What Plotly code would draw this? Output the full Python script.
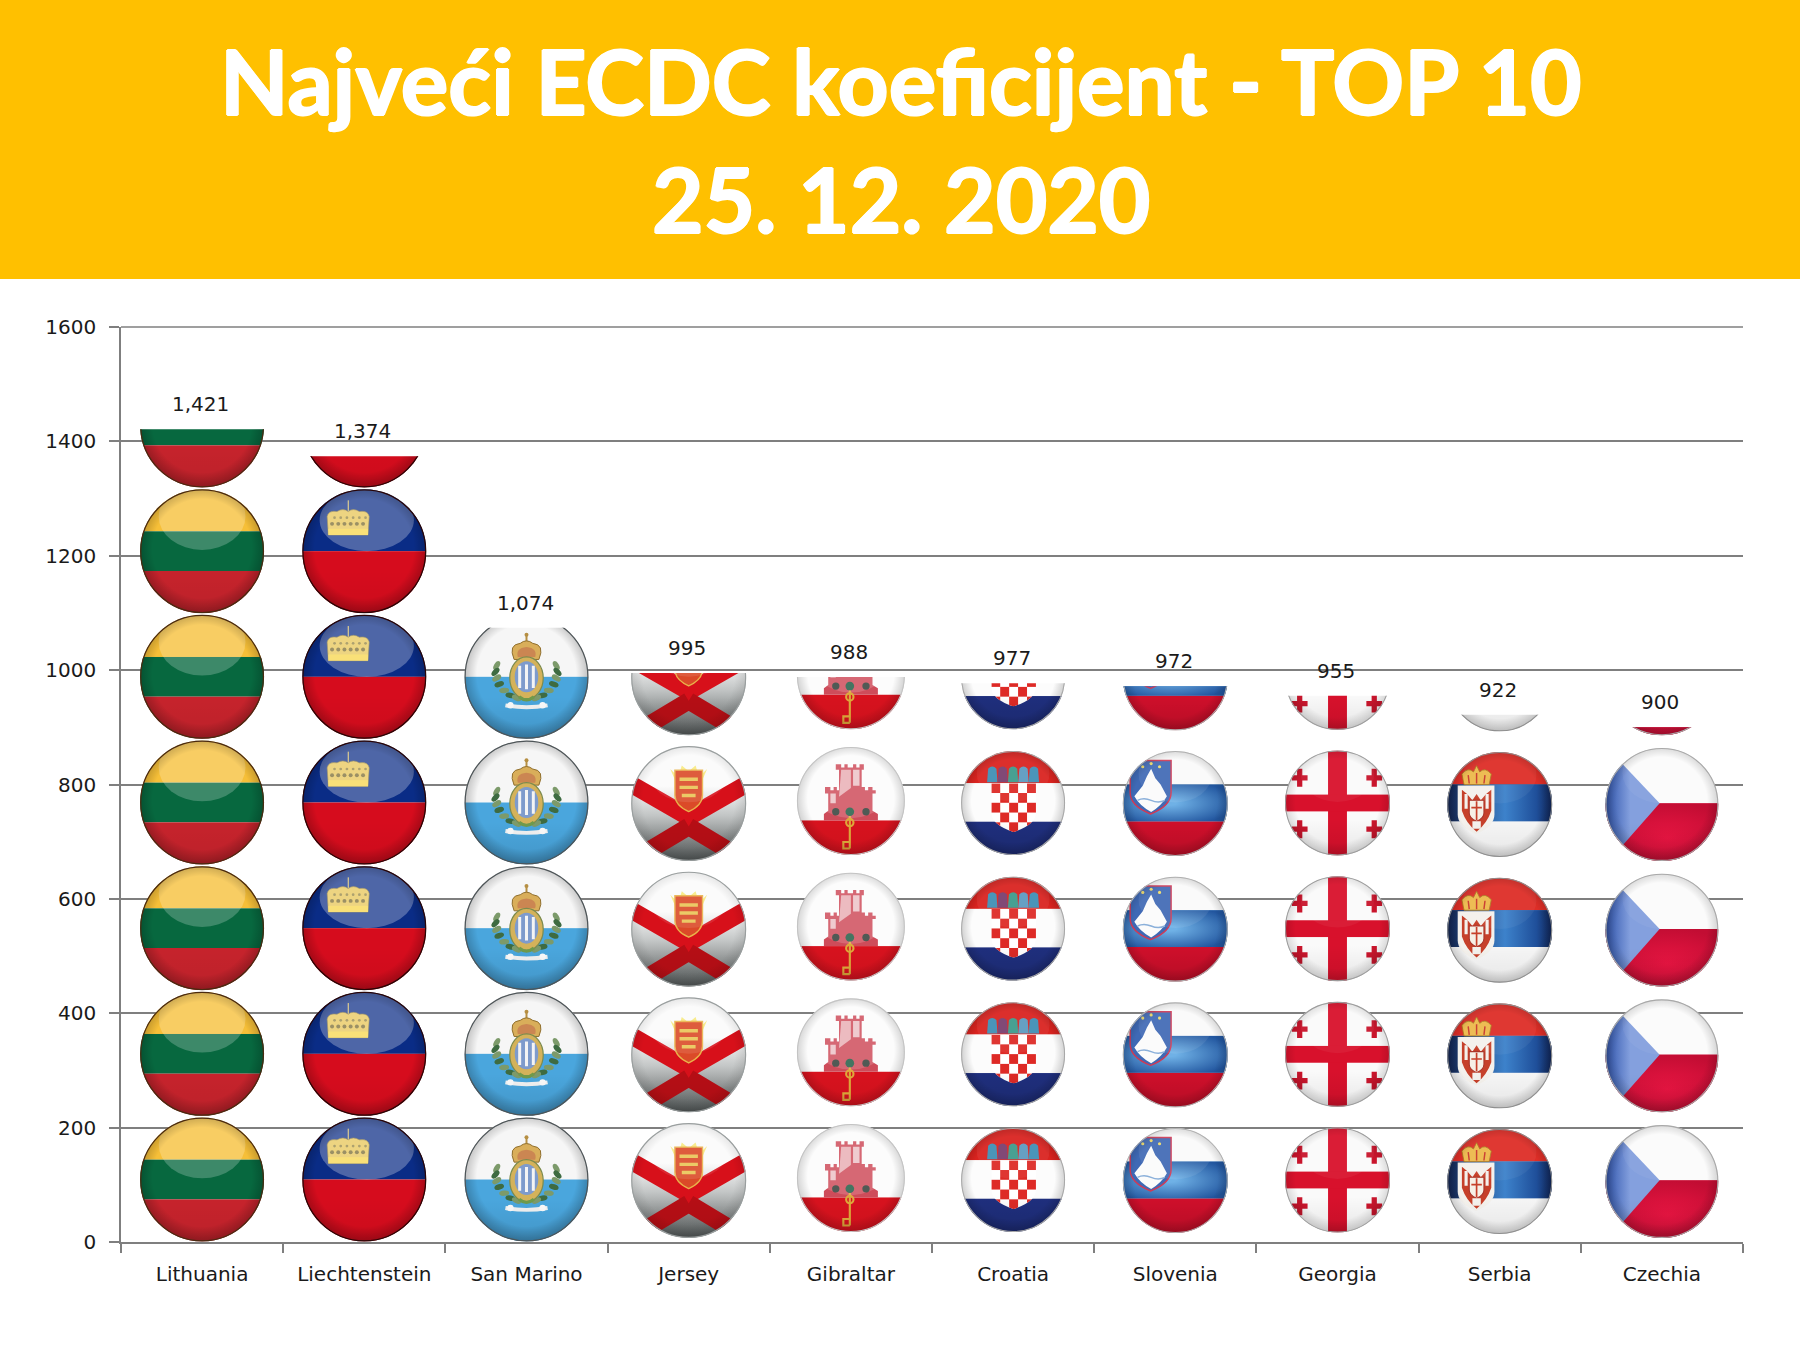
import base64
import plotly.graph_objects as go

# ECDC coefficient per country
countries = ["Lithuania", "Liechtenstein", "San Marino", "Jersey", "Gibraltar",
             "Croatia", "Slovenia", "Georgia", "Serbia", "Czechia"]
coefficients = [1421, 1374, 1074, 995, 988, 977, 972, 955, 922, 900]
y_ticks = [0, 200, 400, 600, 800, 1000, 1200, 1400, 1600]
title_lines = ["Najveći ECDC koeficijent - TOP 10", "25. 12. 2020"]

UNITS_PER_ICON = 219.75   # one stacked badge stands for this many units
FIG_W, FIG_H = 1800, 1350
M_L, M_R, M_T, M_B = 121, 57, 327, 108
PLOT_W, PLOT_H = FIG_W - M_L - M_R, FIG_H - M_T - M_B
SLOT = UNITS_PER_ICON / 1600 * PLOT_H     # badge cell size in pixels
SLOT_CAT = SLOT / (PLOT_W / len(countries))
AXIS_GREY = "#7f7f7f"
TEXT_FONT = dict(family="DejaVu Sans", size=20, color="#1a1a1a")


def shield_path(x0, x1, y0, y1):
    m = (x0 + x1) / 2
    h = y1 - y0
    return (f"M{x0} {y0}H{x1}V{y0 + h * .6}Q{x1} {y0 + h * .85} {m} {y1}"
            f"Q{x0} {y0 + h * .85} {x0} {y0 + h * .6}Z")


def stripes(*bands):
    out, top = "", 0
    for colour, bottom in bands:
        out += f'<rect x="0" y="{top}" width="100" height="{bottom - top}" fill="{colour}"/>'
        top = bottom
    return out


def lithuania():
    return stripes(("#F6BF38", 34), ("#07683F", 66), ("#C6232C", 100))


def liechtenstein():
    crown = (
        '<rect x="36.6" y="9" width="1" height="9" fill="#C9B569"/>'
        '<path d="M21 37L20 22Q21 17 28 18Q33 15 37 18Q41 15 46 18Q53 17 54 22L53 37Z" '
        'fill="#E6C451" stroke="#7f6f33" stroke-width=".5"/>'
        '<rect x="21" y="32" width="32" height="5" fill="#F7D545"/>'
    )
    for x in range(24, 53, 5):
        crown += f'<circle cx="{x}" cy="28" r="1.6" fill="#75662a"/>'
        crown += f'<circle cx="{x + 2}" cy="23" r="1.1" fill="#8e7d38"/>'
    return stripes(("#0A2C86", 50), ("#D60C1D", 100)) + crown


def san_marino():
    art = stripes(("#F6F6F6", 50), ("#4AA6DD", 100))
    # laurel and oak branches either side of the shield
    leaves = ""
    for sign in (-1, 1):
        for k, (dx, y) in enumerate(((24, 41), (25, 46), (24, 51), (22, 56), (18, 61), (13, 65), (8, 67))):
            colour = "#3E6B41" if k % 2 else "#7C9A6A"
            leaves += (f'<ellipse cx="{50 + sign * dx}" cy="{y}" rx="4" ry="2.2" fill="{colour}" '
                       f'transform="rotate({sign * (60 - k * 14)} {50 + sign * dx} {y})"/>')
    art += leaves
    art += (
        '<circle cx="50" cy="16" r="1.6" fill="#B68F43"/><path d="M50 16V22" stroke="#B68F43" stroke-width="1.6"/>'
        '<path d="M40 36Q35 24 45 23Q50 19 55 23Q65 24 60 36Z" fill="#D9AE5A" stroke="#8F6E2E" stroke-width=".8"/>'
        '<path d="M43 34Q41 27 50 26Q59 27 57 34Z" fill="#C26A4C" opacity=".6"/>'
        '<ellipse cx="50" cy="51" rx="13.5" ry="17" fill="#D4B25A" stroke="#7C8B4E" stroke-width="1"/>'
        '<ellipse cx="50" cy="50" rx="9.5" ry="12.5" fill="#7E9BCC"/>'
        '<path d="M44.5 41V59M50 40V60M55.5 41V59" stroke="#F4F4F4" stroke-width="2.4"/>'
        '<path d="M44 66Q50 71 56 66" stroke="#6F9A4B" stroke-width="2.6" fill="none"/>'
        '<path d="M33 73Q50 76 67 73" stroke="#F2F2F2" stroke-width="3.2" fill="none"/>'
        '<circle cx="37" cy="73" r="2.6" fill="#FBFBFB"/><circle cx="63" cy="73" r="2.6" fill="#FBFBFB"/>'
    )
    return art


def jersey():
    art = (
        '<defs><linearGradient id="jg" x1="0" y1="0" x2="0" y2="1">'
        '<stop offset=".35" stop-color="#FBFBFB"/><stop offset=".6" stop-color="#C3C6C6"/>'
        '<stop offset="1" stop-color="#4F5454"/></linearGradient></defs>'
        '<rect width="100" height="100" fill="url(#jg)"/>'
        '<path d="M-4 31L50 62L104 31" fill="none" stroke="#D7101A" stroke-width="15"/>'
        '<path d="M50 70L100 100M50 70L0 100" stroke="#B50E15" stroke-width="15"/>'
        '<path d="M34 20L41 27L44 17L50 22L56 17L59 27L66 20L60 34H40Z" fill="#F7E66A" opacity=".85"/>'
        f'<path d="{shield_path(38, 62, 21, 57)}" fill="#DB4A28" stroke="#E9B14A" stroke-width="1.2"/>'
        '<path d="M42 29H58M42 36H58M44 43H56" stroke="#E9C455" stroke-width="3"/>'
    )
    return art


def gibraltar():
    art = stripes(("#FCFCFC", 68), ("#D8121E", 100))
    art += (
        '<path d="M25 68V62L29 59V43H26V37H31V40H34V37H37V40H39V21H36V16H41V19H44V16H47V19H52V16H55V19H58V16H62'
        'V21H60V37H63V40H66V37H70V40H73V43H70V59L75 62V68Z" fill="#CE4C5A"/>'
        '<path d="M41 21H50V38L39 46Z" fill="#F2CFD3" opacity=".75"/>'
        '<path d="M52 21H58V36H52ZM31 43H36V52H31Z" fill="#F4DEE1" opacity=".8"/>'
        '<circle cx="36" cy="60" r="3.4" fill="#2F3B35"/><circle cx="49" cy="60" r="4" fill="#1F5B43"/>'
        '<circle cx="64" cy="60" r="3.4" fill="#2F3B35"/>'
        '<path d="M49 64V94M49 94H43V88H49" stroke="#DFA93A" stroke-width="2" fill="none"/>'
        '<circle cx="49" cy="70" r="3.4" fill="none" stroke="#DFA93A" stroke-width="2"/>'
    )
    return art


def croatia():
    art = stripes(("#D9231F", 31), ("#FCFCFC", 68), ("#1F2F7E", 100))
    path = shield_path(29, 72, 31, 78)
    art += f'<clipPath id="cs"><path d="{path}"/></clipPath><g clip-path="url(#cs)">'
    art += '<rect x="29" y="31" width="43" height="47" fill="#FFFFFF"/>'
    for row in range(5):
        for col in range(5):
            if (row + col) % 2 == 0:
                art += (f'<rect x="{29 + col * 8.6:.1f}" y="{31 + row * 9.4:.1f}" '
                        'width="8.6" height="9.4" fill="#DE2A26"/>')
    art += "</g>"
    colours = ["#3F8FB5", "#7A3E6E", "#3D9B8C", "#5D9BC0", "#3F8FB5"]
    for i, colour in enumerate(colours):
        art += (f'<path d="M{25 + i * 10} 30L{26 + i * 10} 17Q{30 + i * 10} 13 {34 + i * 10} 17L{35 + i * 10} 30Z" '
                f'fill="{colour}"/>')
    return art


def slovenia():
    art = (
        '<defs><radialGradient id="sb" cx=".45" cy=".5" r=".62">'
        '<stop offset=".1" stop-color="#6FB1E6"/><stop offset="1" stop-color="#22569F"/></radialGradient></defs>'
    )
    art += stripes(("#FAFAFA", 32), ("#3C7FC4", 67), ("#D00F2B", 100))
    art += '<rect x="0" y="32" width="100" height="35" fill="url(#sb)"/>'
    art += (
        f'<path d="{shield_path(7, 46, 9, 60)}" fill="#3F69B5" stroke="#CF3A56" stroke-width="1.4"/>'
        '<path d="M11 43L19 33L23 24L27 17L31 26L36 32L42 43Q37 52 27 58Q16 52 11 43Z" fill="#FBFBFB"/>'
        '<path d="M14 47Q20 44 27 47T40 47" stroke="#8BB0DA" stroke-width="1.4" fill="none"/>'
        '<circle cx="19" cy="15" r="1.5" fill="#F0DC6A"/><circle cx="27" cy="12" r="1.5" fill="#F0DC6A"/>'
        '<circle cx="35" cy="15" r="1.5" fill="#F0DC6A"/>'
    )
    return art


def georgia():
    art = '<rect width="100" height="100" fill="#FAFAFA"/>'
    art += ('<rect x="41" y="0" width="18" height="100" fill="#D8112C"/>'
            '<rect x="0" y="42" width="100" height="16" fill="#D8112C"/>')
    for cx in (14, 85):
        for cy in (26, 75):
            art += f'<path d="M{cx} {cy - 8.5}V{cy + 8.5}M{cx - 7.5} {cy}H{cx + 7.5}" stroke="#C9152C" stroke-width="5"/>'
    return art


def serbia():
    art = (
        '<defs><linearGradient id="rb" x1="0" y1="0" x2="1" y2="0">'
        '<stop offset="0" stop-color="#12234F"/><stop offset=".55" stop-color="#3D82CB"/>'
        '<stop offset=".85" stop-color="#1F4F9A"/><stop offset="1" stop-color="#102455"/></linearGradient></defs>'
    )
    art += stripes(("#DE2E27", 31), ("#27549E", 66), ("#F5F5F5", 100))
    art += '<rect x="0" y="31" width="100" height="35" fill="url(#rb)"/>'
    art += (
        '<path d="M16 31L14 21Q20 14 25 19L28 13L31 19Q36 14 42 21L40 31Z" fill="#EDB94B" stroke="#A87A20" stroke-width=".8"/>'
        '<path d="M21 30L20 22M28 30V20M35 30L36 22" stroke="#C9372B" stroke-width="1.4"/>'
        f'<path d="{shield_path(10, 45, 32, 78)}" fill="#F4F1EC"/>'
        '<path d="M14 36Q20 40 24 46L28 40L32 46Q36 40 42 36V56Q38 68 28 76Q18 68 14 56Z" fill="#C6402A"/>'
        '<path d="M18 40V54M38 40V54" stroke="#F4F1EC" stroke-width="3"/>'
        f'<path d="{shield_path(21, 35, 46, 66)}" fill="#F6F0E6" stroke="#A9352A" stroke-width="1"/>'
        '<path d="M28 47V65M23 53H33" stroke="#C6402A" stroke-width="1.6"/>'
        '<path d="M24 66V73H32V66Z" fill="#F4F1EC"/>'
    )
    return art


def czechia():
    art = (
        '<defs><radialGradient id="cr" cx=".55" cy=".6" r=".62">'
        '<stop offset="0" stop-color="#EA1542"/><stop offset="1" stop-color="#C20D33"/></radialGradient>'
        '<linearGradient id="cb" x1="0" y1=".5" x2="1" y2=".5">'
        '<stop offset=".02" stop-color="#253F88"/><stop offset=".22" stop-color="#4A6CBC"/>'
        '<stop offset=".5" stop-color="#84A0DE"/></linearGradient></defs>'
    )
    art += stripes(("#FBFBFB", 49), ("#D8123C", 100))
    art += '<rect x="0" y="49" width="100" height="51" fill="url(#cr)"/>'
    art += '<path d="M-4 -6L48 49L-4 108Z" fill="url(#cb)"/>'
    return art


# drawing, gloss ellipse (cx, cy, rx, ry, opacity), underside shade, rim colour, rim darkness
FLAGS = {
    "Lithuania": (lithuania, (50, 22, 35, 27, .22), .05, "#4a2a10", .30),
    "Liechtenstein": (liechtenstein, (52, 25, 38, 25, .28), .05, "#2a0505", .30),
    "San Marino": (san_marino, (50, 22, 35, 27, 0), .10, "#4e5558", .30),
    "Jersey": (jersey, (50, 22, 35, 27, .10), .05, "#9a9f9f", .14),
    "Gibraltar": (gibraltar, (50, 30, 40, 36, .16), .05, "#c4c4c4", .22),
    "Croatia": (croatia, (50, 22, 35, 27, .06), .12, "#a8a8a8", .24),
    "Slovenia": (slovenia, (50, 22, 35, 27, .08), .12, "#b0b0b0", .22),
    "Georgia": (georgia, (50, 22, 35, 27, .05), .08, "#9d9d9d", .18),
    "Serbia": (serbia, (50, 22, 35, 27, .05), .06, "#8f8f8f", .22),
    "Czechia": (czechia, (50, 22, 35, 27, .05), .10, "#a9a9a9", .22),
}
# badge diameter and gap under it, in pixels
BADGE_FIT = {
    "Lithuania": (124, .5), "Liechtenstein": (124, .5), "San Marino": (124, .5),
    "Jersey": (115, 4), "Gibraltar": (108, 10), "Croatia": (104, 10),
    "Slovenia": (105, 9), "Georgia": (105, 9.5), "Serbia": (105, 8), "Czechia": (113, 4),
}


def badge_uri(country, fraction=1.0):
    """A glossy round flag as an SVG data URI; fraction keeps only the lower part of it."""
    draw, (gx, gy, grx, gry, gop), under, rim, dark = FLAGS[country]
    d, gap = BADGE_FIT[country]
    x0 = (SLOT - d) / 2
    y0 = SLOT - gap - d
    top = SLOT * (1 - fraction)
    shown = SLOT * fraction
    body = (
        '<defs><clipPath id="disc"><circle cx="50" cy="50" r="50"/></clipPath>'
        '<radialGradient id="edge" cx=".5" cy=".48" r=".54">'
        '<stop offset=".74" stop-color="#000" stop-opacity="0"/>'
        f'<stop offset="1" stop-color="#000" stop-opacity="{dark}"/></radialGradient>'
        '<linearGradient id="under" x1="0" y1="0" x2="0" y2="1">'
        '<stop offset=".66" stop-color="#000" stop-opacity="0"/>'
        f'<stop offset="1" stop-color="#000" stop-opacity="{under}"/></linearGradient></defs>'
        '<g clip-path="url(#disc)">' + draw() +
        '<rect width="100" height="100" fill="url(#under)"/>'
        f'<ellipse cx="{gx}" cy="{gy}" rx="{grx}" ry="{gry}" fill="#FFF" opacity="{gop}"/>'
        '<rect width="100" height="100" fill="url(#edge)"/></g>'
        f'<circle cx="50" cy="50" r="49.5" fill="none" stroke="{rim}" stroke-width="1"/>'
    )
    svg = (
        f'<svg xmlns="http://www.w3.org/2000/svg" width="{SLOT:.2f}" height="{shown:.2f}" '
        f'viewBox="0 {top:.2f} {SLOT:.2f} {shown:.2f}" preserveAspectRatio="none">'
        f'<g transform="translate({x0:.2f} {y0:.2f}) scale({d / 100:.4f})">{body}</g></svg>'
    )
    return "data:image/svg+xml;base64," + base64.b64encode(svg.encode()).decode()


def stack_images(index, country, value):
    """Whole badges up to the value, then one cut to the remainder."""
    images, level = [], 0.0
    while level < value:
        height = min(UNITS_PER_ICON, value - level)
        images.append(dict(
            source=badge_uri(country, height / UNITS_PER_ICON),
            xref="x", yref="y", x=index, y=level, sizex=SLOT_CAT, sizey=height,
            xanchor="center", yanchor="bottom", sizing="stretch", layer="above",
        ))
        level += height
    return images


fig = go.Figure(go.Bar(
    x=countries, y=coefficients, marker=dict(color="#FFFFFF", opacity=0, line=dict(width=0)),
    hovertemplate="%{x}: %{y:,}<extra></extra>",
))

images = []
for i, (name, val) in enumerate(zip(countries, coefficients)):
    images += stack_images(i, name, val)

value_labels = [
    dict(x=i, y=val, xref="x", yref="y", text=f"{val:,}", showarrow=False,
         yanchor="bottom", yshift=11, xshift=-1.5, font=TEXT_FONT)
    for i, val in enumerate(coefficients)
]


def paper_y(px):
    return (FIG_H - M_B - px) / PLOT_H


def paper_x(px):
    return (px - M_L) / PLOT_W


TITLE_HALO = "1px 0 0 #fff, -1px 0 0 #fff, 0 1px 0 #fff, 0 -1px 0 #fff"
title_labels = [
    dict(xref="paper", yref="paper", x=paper_x(901), y=paper_y(py), text=line, showarrow=False,
         xanchor="center", yanchor="middle",
         font=dict(family="Lato", size=89, color="#FFFFFF", weight="bold", shadow=TITLE_HALO))
    for line, py in zip(title_lines, (80, 199))
]

fig.update_layout(
    width=FIG_W, height=FIG_H, showlegend=False, bargap=0.3,
    margin=dict(l=M_L, r=M_R, t=M_T, b=M_B, pad=0),
    paper_bgcolor="#FFFFFF", plot_bgcolor="#FFFFFF",
    font=TEXT_FONT,
    images=images,
    annotations=value_labels + title_labels,
    shapes=[
        dict(type="rect", xref="paper", yref="paper", layer="below",
             x0=paper_x(0), x1=paper_x(FIG_W), y0=paper_y(279), y1=paper_y(0),
             fillcolor="#FFC000", line=dict(width=0)),
        # the gridline at the top of the range
        dict(type="line", xref="paper", yref="paper", layer="below", x0=0, x1=1,
             y0=1, y1=1, line=dict(color=AXIS_GREY, width=1.5)),
    ],
    xaxis=dict(type="category", range=[-0.5, 9.5], tickson="boundaries", ticks="outside",
               ticklen=9, tickwidth=1.5, tickcolor=AXIS_GREY, showline=True, linecolor=AXIS_GREY,
               linewidth=1.5, showgrid=False, fixedrange=True, tickfont=TEXT_FONT,
               ticklabelstandoff=13),
    yaxis=dict(range=[0, 1600], tickmode="array", tickvals=y_ticks, ticks="outside",
               ticklen=10, tickwidth=1.5, tickcolor=AXIS_GREY, showline=True, linecolor=AXIS_GREY,
               linewidth=1.5, showgrid=True, gridcolor=AXIS_GREY, gridwidth=1.5, zeroline=False,
               fixedrange=True, tickfont=TEXT_FONT, ticklabelstandoff=9),
)

fig.write_html("out.html", config=dict(displayModeBar=False))
